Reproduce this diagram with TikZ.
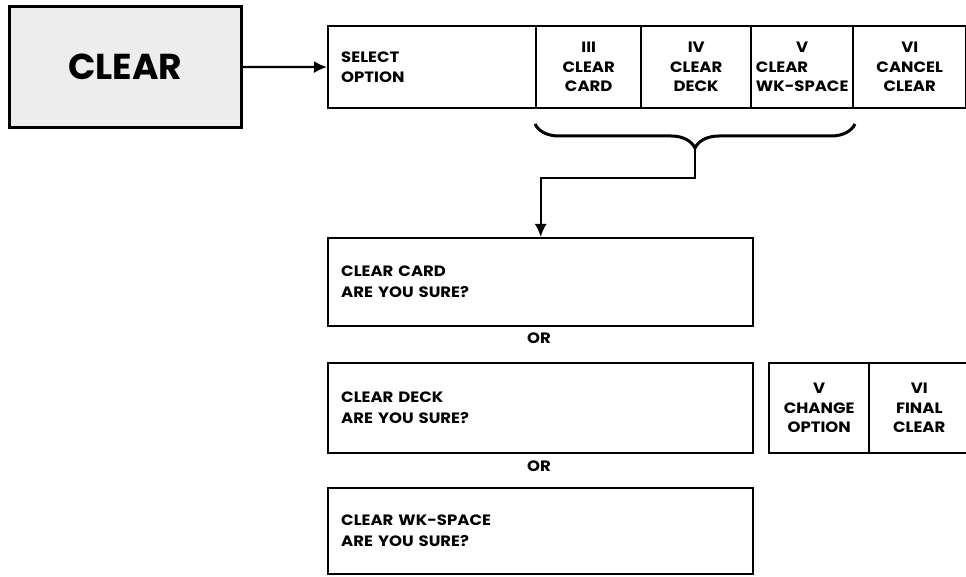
\documentclass[tikz,border=0pt]{standalone}
\usepackage{fontspec}
\setmainfont{Poppins}
\newfontfamily\bigfont{Poppins}
\newfontfamily\boxfont{Poppins}[FakeStretch=1.1]
\usetikzlibrary{positioning,arrows.meta,decorations.pathreplacing}

\tikzset{
  frame/.style={draw, line width=2.4pt, inner sep=0pt, anchor=north west},
  cell/.style={frame, minimum height=82pt, align=center,
    font=\boxfont\bfseries\fontsize{15}{19.5}\selectfont},
  askbox/.style={frame, minimum width=425pt, text width=399pt, inner xsep=13pt,
    align=left, font=\boxfont\bfseries\fontsize{15}{21}\selectfont},
  orlabel/.style={font=\boxfont\bfseries\fontsize{15}{18}\selectfont},
  arr/.style={line width=2.2pt, -{Latex[length=13pt,width=12pt]}},
}

\begin{document}
\begin{tikzpicture}[x=1pt,y=-1pt]
    \useasboundingbox (0,0) rectangle (966,577);

    \node[frame, fill=gray!14, line width=2.6pt, minimum width=232pt, minimum height=121pt,
      font=\bigfont\bfseries\fontsize{36}{40}\selectfont] (clear) at (8,5) {CLEAR};

    % select option row
    \node[cell, minimum width=208pt, text width=182pt, inner xsep=13pt, align=left] (select) at (327,25) {SELECT\\OPTION};
    \node[cell, minimum width=105pt] (opt3) at (535,25) {III\\CLEAR\\CARD};
    \node[cell, minimum width=110pt] (opt4) at (640,25) {IV\\CLEAR\\DECK};
    \node[cell, minimum width=102pt] (opt5) at (750,25) {V\\\rlap{CLEAR}\phantom{WK-SPACE}\\WK-SPACE};
    \node[cell, minimum width=113pt] (opt6) at (852,25) {VI\\CANCEL\\CLEAR};
    \draw[arr] (clear) -- (select);% Draw entry arrow

    % brace over III--V
    \coordinate (BraceL)   at (535,124);
    \coordinate (BraceR)   at (855,124);
    \coordinate (BraceTip) at (695,148);
    \coordinate (Bend)     at (695,178);
    \draw[decorate, decoration={brace, mirror, amplitude=24pt}, line width=3pt] (BraceL) -- (BraceR);

    % questions
    \node[askbox, minimum height=88pt] (askcard) at (327,237) {CLEAR CARD\\ARE YOU SURE?};
    \node[orlabel] (or1) at (539,338) {OR};
    \node[askbox, minimum height=90pt] (askdeck) at (327,362) {CLEAR DECK\\ARE YOU SURE?};
    \node[orlabel] (or2) at (539,466) {OR};
    \node[askbox, minimum height=86pt] (askwks) at (327,487) {CLEAR WK-SPACE\\ARE YOU SURE?};
    \draw[arr] (BraceTip) -- (Bend) -| (askcard.north);% Draw brace to question

    % confirm keys
    \node[cell, minimum width=100pt, minimum height=90pt] (change) at (768,362) {V\\CHANGE\\OPTION};
    \node[cell, minimum width=100pt, minimum height=90pt] (final) at (868,362) {VI\\FINAL\\CLEAR};

\end{tikzpicture}
\end{document}
